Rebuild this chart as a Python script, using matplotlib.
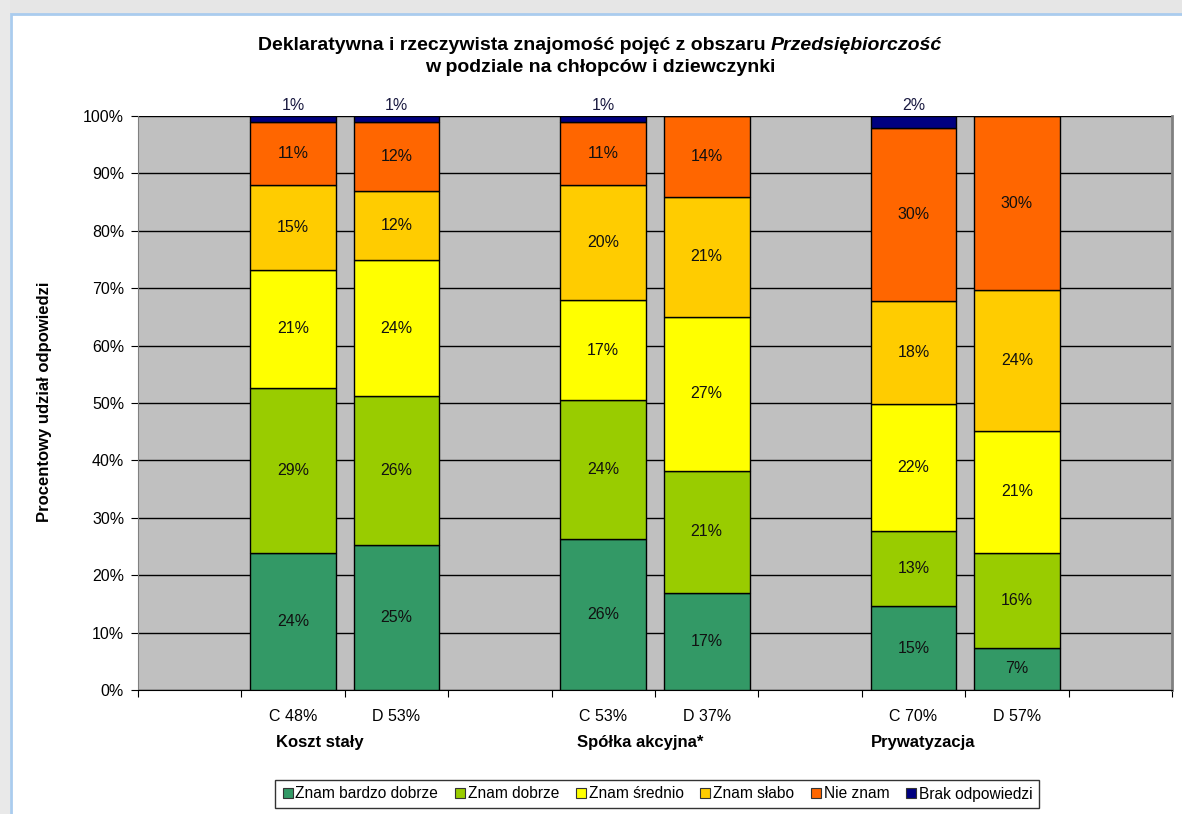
import matplotlib
matplotlib.use("Agg")
import matplotlib.pyplot as plt
from matplotlib.patches import Rectangle
import numpy as np

plt.rcParams['font.family'] = ['Liberation Sans', 'DejaVu Sans']

categories = ["", "C 48%", "D 53%", "", "C 53%", "D 37%", "", "C 70%", "D 57%", ""]
groups = ["Koszt stały", "Spółka akcyjna*", "Prywatyzacja"]
series_names = ["Znam bardzo dobrze", "Znam dobrze", "Znam średnio", "Znam słabo", "Nie znam", "Brak odpowiedzi"]
colors = ["#339966", "#99CC00", "#FFFF00", "#FFCC00", "#FF6600", "#000080"]

# values per series for bars C48, D53, C53, D37, C70, D57
bar_slots = [1, 2, 4, 5, 7, 8]
znam_bardzo_dobrze = [23.9, 25.3, 26.3, 16.9, 14.6, 7.4]
znam_dobrze = [28.7, 25.9, 24.2, 21.3, 13.1, 16.4]
znam_srednio = [20.6, 23.7, 17.4, 26.8, 22.1, 21.4]
znam_slabo = [14.8, 12.0, 20.1, 20.9, 18.0, 24.4]
nie_znam = [11.0, 12.1, 11.0, 14.1, 30.1, 30.4]
brak_odpowiedzi = [1.0, 1.0, 1.0, 0.0, 2.1, 0.0]
series = [znam_bardzo_dobrze, znam_dobrze, znam_srednio, znam_slabo, nie_znam, brak_odpowiedzi]

fig = plt.figure(figsize=(11.82, 8.14), dpi=100)
W, H = 1182, 814

# panel frame with shadow (background axes)
bg = fig.add_axes([0, 0, 1, 1], zorder=-5)
bg.set_xlim(0, W)
bg.set_ylim(H, 0)
bg.axis("off")
bg.add_patch(Rectangle((0, 0), W, 14, facecolor="#e6e6e6", edgecolor="none"))
bg.add_patch(Rectangle((0, 0), 10, H, facecolor="#e9e9e9", edgecolor="none"))
bg.add_patch(Rectangle((10.5, 14), W + 10, H + 10, facecolor="white", edgecolor="#aaccee", linewidth=2))

ax = fig.add_axes([138 / W, 1 - 690 / H, (1172 - 138) / W, (690 - 116) / H], zorder=2)
ax.set_facecolor("#C0C0C0")
ax.set_xlim(-0.5, 9.5)
ax.set_ylim(0, 100)
ax.set_yticks(np.arange(0, 101, 10))
ax.set_yticklabels([f"{v}%" for v in range(0, 101, 10)], fontsize=11.5)
ax.yaxis.grid(True, color="black", linewidth=1)
ax.set_axisbelow(True)
ax.spines["left"].set_color("#808080")
ax.spines["top"].set_visible(False)
ax.spines["right"].set_color("#808080")
ax.spines["right"].set_linewidth(2)
ax.spines["bottom"].set_color("black")
ax.tick_params(axis="y", length=5, color="black", pad=5)

# x ticks at slot boundaries
ax.set_xticks(np.arange(-0.5, 10, 1))
ax.set_xticklabels([])
ax.tick_params(axis="x", length=5, color="black")
ax.set_xticks(np.arange(0, 10), minor=True)
ax.set_xticklabels(categories, minor=True, fontsize=11.5)
ax.tick_params(axis="x", which="minor", length=0, pad=14)

bottom = np.zeros(len(bar_slots))
for name, vals, col in zip(series_names, series, colors):
    vals = np.array(vals)
    ax.bar(bar_slots, vals, bottom=bottom, width=0.83, color=col, edgecolor="black",
           linewidth=1, label=name, zorder=3)
    for x, b, v in zip(bar_slots, bottom, vals):
        if v <= 0:
            continue
        lbl = f"{int(round(v))}%"
        if name == "Brak odpowiedzi":
            ax.text(x, b + v + 0.5, lbl, ha="center", va="bottom", fontsize=11.5,
                    color="#1a1a40", zorder=4)
        else:
            ax.text(x, b + v / 2, lbl, ha="center", va="center", fontsize=11.5,
                    color="#111111", zorder=4)
    bottom += vals

# group labels
group_px = [320, 640, 923]
for g, px in zip(groups, group_px):
    fig.text(px / W, 1 - 743 / H, g, ha="center", va="center", fontsize=12,
             fontweight="bold")

# title: normal bold + bold italic part, centered together
t1 = fig.text(0, 1 - 45 / H, "Deklaratywna i rzeczywista znajomość pojęć z obszaru ",
              ha="left", va="center", fontsize=14, fontweight="bold")
t2 = fig.text(0, 1 - 45 / H, "Przedsiębiorczość", ha="left", va="center",
              fontsize=14, fontweight="bold", fontstyle="italic")
fig.canvas.draw()
r = fig.canvas.get_renderer()
w1 = t1.get_window_extent(r).width
w2 = t2.get_window_extent(r).width
x0 = 600 - (w1 + w2) / 2
t1.set_x(x0 / W)
t2.set_x((x0 + w1) / W)
fig.text(600 / W, 1 - 67 / H, "w podziale na chłopców i dziewczynki", ha="center", va="center",
         fontsize=14, fontweight="bold")

fig.text(45 / W, 1 - 402 / H, "Procentowy udział odpowiedzi", rotation=90, ha="center",
         va="center", fontsize=12, fontweight="bold")

handles = [plt.Line2D([], [], marker="s", linestyle="none", markersize=7,
                      markerfacecolor=c, markeredgecolor="#333333", markeredgewidth=0.8)
           for c in colors]
leg = fig.legend(handles, series_names, loc="center", bbox_to_anchor=(657 / W, 1 - 794 / H),
                 ncol=6, fontsize=11.2, frameon=True, fancybox=False, edgecolor="black",
                 handlelength=0.8, handletextpad=0.1, columnspacing=1.0, borderpad=0.4)
leg.get_frame().set_linewidth(1)

fig.savefig("out.png", dpi=100)
